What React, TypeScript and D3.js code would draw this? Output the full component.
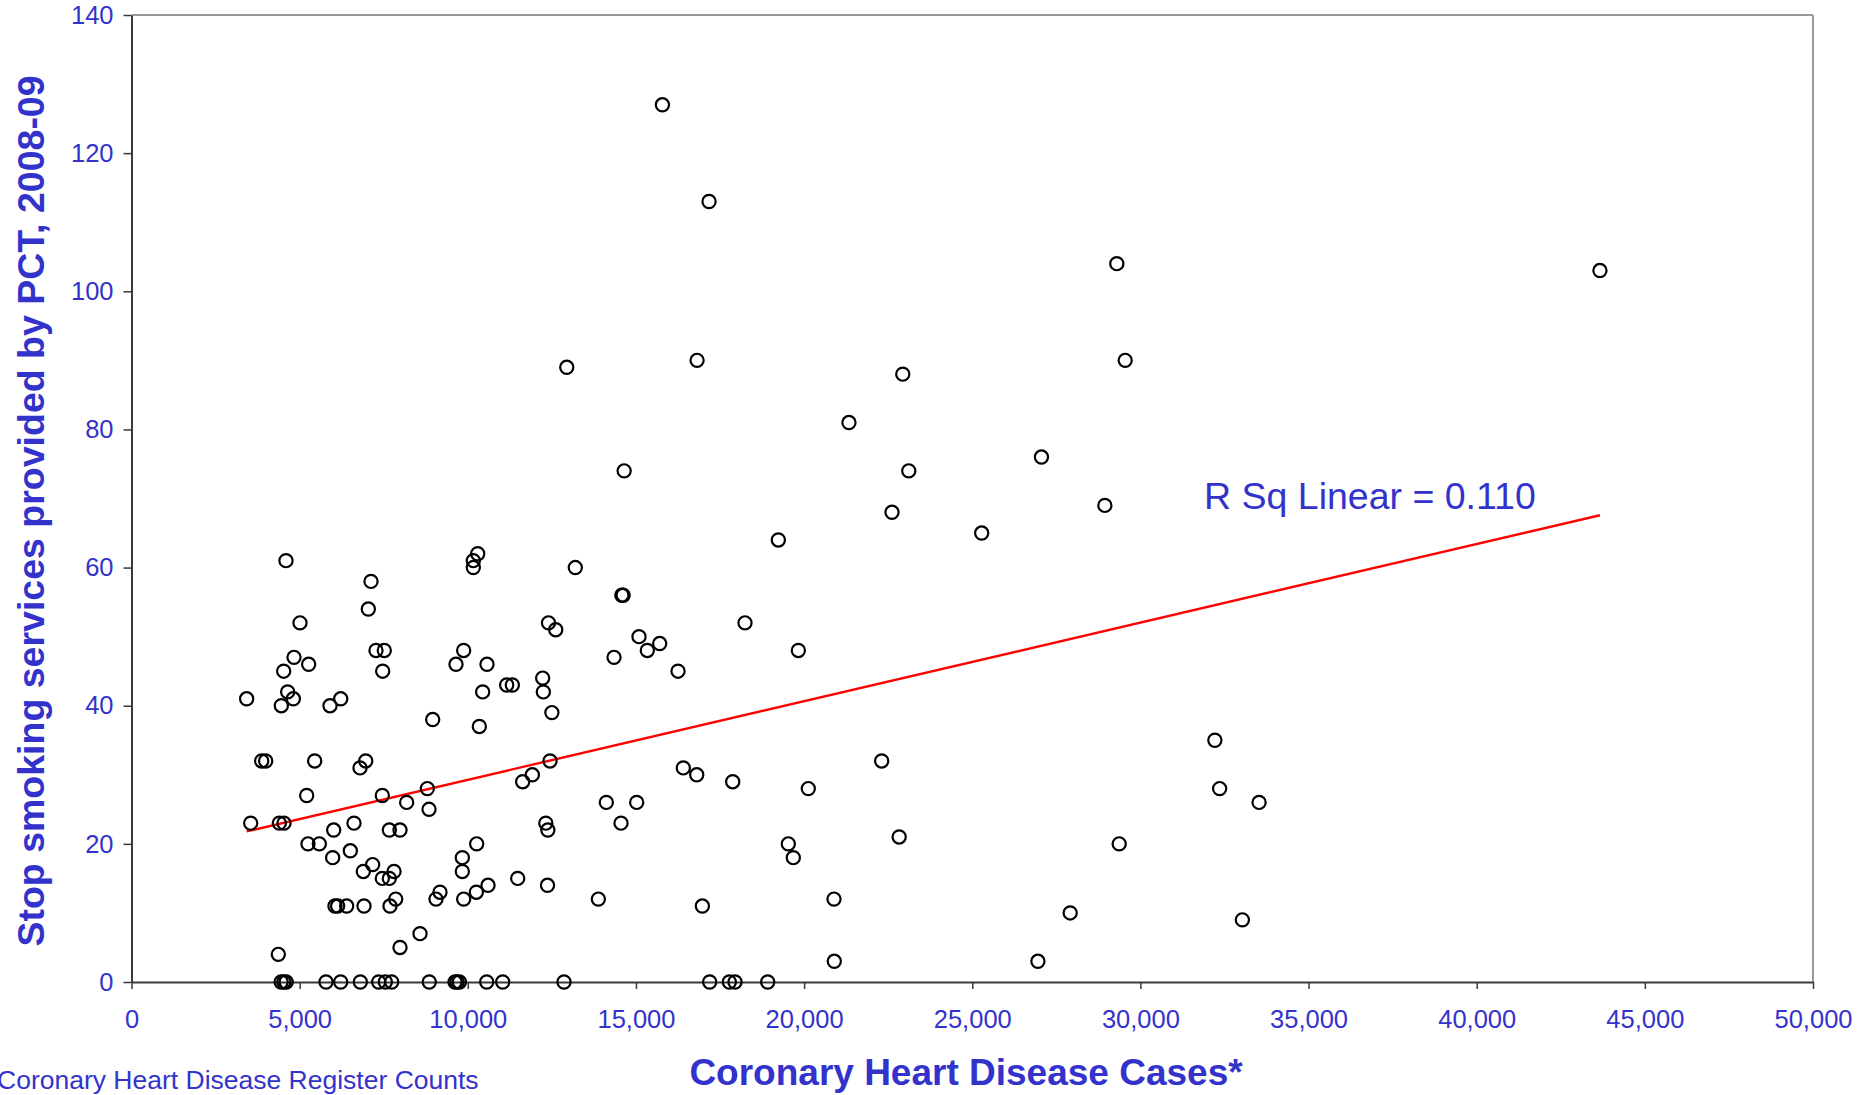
import React, { useEffect, useRef } from "react";
import * as d3 from "d3";

// CHD register counts (x) vs stop smoking services (y), one pair per PCT
const pctPoints: [number, number][] = [
  // upper left cluster
  [4594, 61], [7122, 58], [7042, 54], [5010, 52], [10294, 62], [10164, 61],
  [10164, 60], [12400, 52], [7270, 48], [7517, 48], [4832, 47], [5268, 46],
  [4525, 45], [7469, 45], [9877, 48], [9649, 46], [10571, 46], [11156, 43],
  [11324, 43], [12226, 44], [12246, 42], [10442, 42], [3424, 41], [4644, 42],
  [4812, 41], [4455, 40], [5903, 40], [6221, 41], [8956, 38], [10343, 37],
  [12500, 39], [3871, 32], [3990, 32], [5447, 32], [6964, 32], [6795, 31],
  [12445, 32],
  // lower left cluster
  [5209, 27], [3544, 23], [4396, 23], [4535, 23], [6012, 22], [6616, 23],
  [5248, 20], [5585, 20], [5982, 18], [6507, 19], [7458, 27], [8182, 26],
  [8797, 28], [8847, 25], [7667, 22], [7984, 22], [7171, 17], [6893, 16],
  [7806, 16], [7458, 15], [7667, 15], [6050, 11], [6130, 11], [6398, 11],
  [6914, 11], [7687, 11], [7856, 12], [7984, 5], [8579, 7], [4366, 4],
  [9054, 12], [9173, 13], [9837, 18], [9837, 16], [10264, 20], [9877, 12],
  [10254, 13], [10601, 14], [11484, 15], [11632, 29], [11919, 30],
  [12320, 23], [12380, 22], [12370, 14],
  // middle
  [13197, 60], [14580, 56], [14620, 56], [12614, 51], [15091, 50], [15706, 49],
  [15338, 48], [14348, 47], [16251, 45], [18243, 52], [19234, 64], [19829, 48],
  [22307, 32], [16408, 31], [16807, 30], [17877, 29], [20125, 28], [14119, 26],
  [15022, 26], [14556, 23], [13882, 12], [16975, 11], [19531, 20], [19679, 18],
  [20889, 12], [20898, 3],
  // sparse
  [15787, 127], [17174, 113], [29299, 104], [43664, 103], [12943, 89],
  [16818, 90], [29548, 90], [22934, 88], [21334, 81], [14649, 74], [23112, 74],
  [27058, 76], [28943, 69], [22614, 68], [25281, 65], [32214, 35], [32356, 28],
  [33529, 26], [29370, 20], [33032, 9], [27912, 10], [26952, 3], [22827, 21],
];

// PCTs with no stop smoking services recorded
const zeroServiceCases: number[] = [
  4450, 4530, 4600, 5784, 6220, 6805, 7350, 7548, 7737, 8855, 9620, 9680,
  9750, 10562, 11038, 12861, 17192, 17777, 17946, 18918,
];

const xTicks = [0, 5000, 10000, 15000, 20000, 25000, 30000, 35000, 40000, 45000, 50000];
const yTicks = [0, 20, 40, 60, 80, 100, 120, 140];

const xTitle = "Coronary Heart Disease Cases*";
const yTitle = "Stop smoking services provided by PCT, 2008-09";
const footnote = "Coronary Heart Disease Register Counts";
const fitLabel = "R Sq Linear = 0.110";

const WIDTH = 1875;
const HEIGHT = 1095;
const BLUE = "#3333cc";
const FONT = "'Liberation Sans', Arial, Helvetica, sans-serif";

export default function App() {
  const svgRef = useRef<SVGSVGElement>(null);

  useEffect(() => {
    if (!svgRef.current) return;
    const svg = d3.select(svgRef.current);
    svg.selectAll("*").remove();

    const plot = { left: 131.5, right: 1813, top: 15, bottom: 982 };

    const x = d3.scaleLinear().domain([0, 50000]).range([plot.left, plot.right]);
    const y = d3.scaleLinear().domain([0, 140]).range([plot.bottom, plot.top]);

    const data: [number, number][] = [
      ...pctPoints,
      ...zeroServiceCases.map((c) => [c, 0] as [number, number]),
    ];

    // top and right frame in grey
    svg.append("line")
      .attr("x1", plot.left).attr("x2", plot.right)
      .attr("y1", plot.top).attr("y2", plot.top)
      .attr("stroke", "#9a9a9a").attr("stroke-width", 2);
    svg.append("line")
      .attr("x1", plot.right).attr("x2", plot.right)
      .attr("y1", plot.top).attr("y2", plot.bottom)
      .attr("stroke", "#9a9a9a").attr("stroke-width", 2);

    // axes
    const xAxis = svg.append("g")
      .attr("transform", `translate(0,${plot.bottom})`)
      .call(
        d3.axisBottom(x)
          .tickValues(xTicks)
          .tickFormat(d3.format(","))
          .tickSize(7)
          .tickSizeOuter(0)
          .tickPadding(21)
      );
    const yAxis = svg.append("g")
      .attr("transform", `translate(${plot.left},0)`)
      .call(
        d3.axisLeft(y)
          .tickValues(yTicks)
          .tickSize(8)
          .tickSizeOuter(0)
          .tickPadding(10)
      );

    [xAxis, yAxis].forEach((a) => {
      a.select(".domain").attr("stroke", "#3a3a3a").attr("stroke-width", 2);
      a.selectAll(".tick line").attr("stroke", "#3a3a3a").attr("stroke-width", 1.5);
      a.selectAll(".tick text")
        .attr("fill", BLUE)
        .attr("font-family", FONT)
        .attr("font-size", 25.5);
    });

    // linear fit over the data range
    const mx = d3.mean(data, (d) => d[0]) as number;
    const my = d3.mean(data, (d) => d[1]) as number;
    const sxy = d3.sum(data, (d) => (d[0] - mx) * (d[1] - my));
    const sxx = d3.sum(data, (d) => (d[0] - mx) ** 2);
    const slope = sxy / sxx;
    const intercept = my - slope * mx;
    const [xMin, xMax] = d3.extent(data, (d) => d[0]) as [number, number];

    svg.append("line")
      .attr("x1", x(xMin)).attr("y1", y(intercept + slope * xMin))
      .attr("x2", x(xMax)).attr("y2", y(intercept + slope * xMax))
      .attr("stroke", "#ff0000")
      .attr("stroke-width", 2.4);

    // points
    svg.append("g")
      .selectAll("circle")
      .data(data)
      .enter()
      .append("circle")
      .attr("cx", (d) => x(d[0]))
      .attr("cy", (d) => y(d[1]))
      .attr("r", 6.6)
      .attr("fill", "none")
      .attr("stroke", "#000")
      .attr("stroke-width", 2.2);

    // fit label
    svg.append("text")
      .attr("x", 1204)
      .attr("y", 509)
      .attr("fill", BLUE)
      .attr("font-family", FONT)
      .attr("font-size", 37.5)
      .text(fitLabel);

    // axis titles
    svg.append("text")
      .attr("x", 966)
      .attr("y", 1085)
      .attr("text-anchor", "middle")
      .attr("fill", BLUE)
      .attr("font-family", FONT)
      .attr("font-weight", "bold")
      .attr("font-size", 37)
      .text(xTitle);

    svg.append("text")
      .attr("transform", "translate(44,511) rotate(-90)")
      .attr("text-anchor", "middle")
      .attr("fill", BLUE)
      .attr("font-family", FONT)
      .attr("font-weight", "bold")
      .attr("font-size", 37.5)
      .text(yTitle);

    svg.append("text")
      .attr("x", -3)
      .attr("y", 1089)
      .attr("fill", BLUE)
      .attr("font-family", FONT)
      .attr("font-size", 26.5)
      .text(footnote);
  }, []);

  return (
    <svg
      ref={svgRef}
      width={WIDTH}
      height={HEIGHT}
      style={{ position: "absolute", left: 0, top: 0, background: "#fff" }}
    />
  );
}
